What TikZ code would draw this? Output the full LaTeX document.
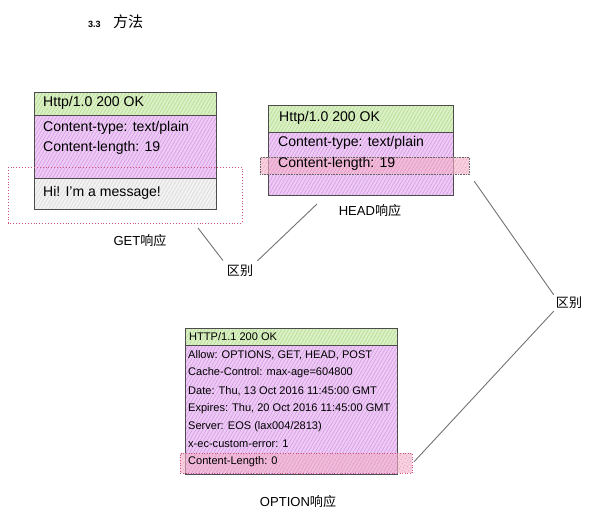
\documentclass[tikz,border=0pt]{standalone}
\usepackage{fontspec}
\setmainfont{Liberation Sans}
\newfontfamily\cjk{Noto Sans CJK SC}
\usetikzlibrary{patterns.meta,positioning}

\definecolor{hdrgreen}{HTML}{DCF0C8}
\definecolor{hdrhatch}{HTML}{B4DC8C}
\definecolor{bodypurple}{HTML}{EDCBF4}
\definecolor{bodyhatch}{HTML}{D69AE6}
\definecolor{msggrey}{HTML}{F3F3F3}
\definecolor{msghatch}{HTML}{D8D8D8}
\definecolor{bandpink}{HTML}{F3B3CB}
\definecolor{bandhatch}{HTML}{EC8FB0}
\definecolor{zonered}{HTML}{CC5580}

\newcommand{\pxscl}{0.035}
\newcommand{\px}[1]{#1*\pxscl}

\tikzset{
  boxframe/.style={draw=black!70, line width=0.8pt, anchor=north west, inner sep=0pt},
  hatch/.style={pattern={Lines[angle=60,distance=3pt,line width=0.6pt]}, pattern color=#1},
  hdrbox/.style={boxframe, preaction={fill=hdrgreen}, hatch=hdrhatch},
  bodybox/.style={boxframe, preaction={fill=bodypurple}, hatch=bodyhatch},
  msgbox/.style={boxframe, preaction={fill=msggrey}, hatch=msghatch},
  band/.style={anchor=north west, inner sep=0pt, preaction={fill=bandpink, fill opacity=0.6}, hatch=bandhatch},
  rowtxt/.style={anchor=west, inner sep=0pt, font=\fontsize{14}{16}\selectfont},
  smalltxt/.style={anchor=west, inner sep=0pt, font=\fontsize{11}{13}\selectfont},
  lbl/.style={inner sep=2pt, font=\fontsize{13}{15}\selectfont},
  link/.style={draw=black!55, line width=0.9pt}
}

\newcommand{\rt}{\node[rowtxt]}
\newcommand{\st}{\node[smalltxt]}

\begin{document}
\begin{tikzpicture}
        \useasboundingbox (0,0) rectangle (\px{598}, -\px{522});

        % title
        \node[anchor=base west, inner sep=0pt, font=\fontsize{9}{10}\selectfont\bfseries] (secnum) at (\px{88}, -\px{28}) {3.3};
        \node[anchor=base west, inner sep=0pt, font=\fontsize{15}{17}\selectfont\cjk] (sectitle) at ([xshift=\px{12}cm]secnum.base east) {方法};

        % GET response
        \node[hdrbox, minimum width=\px{182}cm, minimum height=\px{23}cm] (gethdr) at (\px{34}, -\px{92}) {};
        \node[bodybox, minimum width=\px{182}cm, minimum height=\px{63}cm] (getbody) at (\px{34}, -\px{115}) {};
        \node[msgbox, minimum width=\px{182}cm, minimum height=\px{31}cm] (getmsg) at (\px{34}, -\px{178}) {};
        \rt (get0) at (\px{43}, -\px{103}) {Http/1.0 200 OK};
        \rt (get1) at (\px{43}, -\px{128}) {Content-type: text/plain};
        \rt (get2) at (\px{43}, -\px{148}) {Content-length: 19};
        \rt (get3) at (\px{43}, -\px{193}) {Hi! I'm a message!};
        \draw[zonered, dotted, line width=0.9pt] (\px{8}, -\px{167}) rectangle (\px{242}, -\px{223});
        \node[lbl] (getlbl) at (\px{140}, -\px{241}) {GET{\cjk 响应}};

        % HEAD response
        \node[hdrbox, minimum width=\px{185}cm, minimum height=\px{27}cm] (headhdr) at (\px{268}, -\px{105}) {};
        \node[bodybox, minimum width=\px{185}cm, minimum height=\px{63}cm] (headbody) at (\px{268}, -\px{132}) {};
        \node[band, minimum width=\px{209}cm, minimum height=\px{17}cm, draw=black!60, densely dotted, line width=0.6pt] (headband) at (\px{260}, -\px{157}) {};
        \rt (head0) at (\px{279}, -\px{118}) {Http/1.0 200 OK};
        \rt (head1) at (\px{278}, -\px{143}) {Content-type: text/plain};
        \rt (head2) at (\px{278}, -\px{164}) {Content-length: 19};
        \node[lbl] (headlbl) at (\px{370}, -\px{211}) {HEAD{\cjk 响应}};

        % OPTION response
        \node[hdrbox, minimum width=\px{212}cm, minimum height=\px{17}cm] (opthdr) at (\px{185}, -\px{328}) {};
        \node[bodybox, minimum width=\px{212}cm, minimum height=\px{129}cm] (optbody) at (\px{185}, -\px{345}) {};
        \node[band, minimum width=\px{232}cm, minimum height=\px{20}cm, draw=zonered, dotted, line width=0.6pt] (optband) at (\px{180}, -\px{453}) {};
        \st (opt0) at (\px{189}, -\px{337}) {HTTP/1.1 200 OK};
        \st (opt1) at (\px{188}, -\px{355}) {Allow: OPTIONS, GET, HEAD, POST};
        \st (opt2) at (\px{188}, -\px{373}) {Cache-Control: max-age=604800};
        \st (opt3) at (\px{188}, -\px{391}) {Date: Thu, 13 Oct 2016 11:45:00 GMT};
        \st (opt4) at (\px{188}, -\px{409}) {Expires: Thu, 20 Oct 2016 11:45:00 GMT};
        \st (opt5) at (\px{188}, -\px{427}) {Server: EOS (lax004/2813)};
        \st (opt6) at (\px{188}, -\px{444}) {x-ec-custom-error: 1};
        \st (opt7) at (\px{188}, -\px{462}) {Content-Length: 0};
        \node[lbl] (optlbl) at (\px{298}, -\px{502}) {OPTION{\cjk 响应}};

        % differences
        \node[lbl, font=\fontsize{13}{15}\selectfont\cjk] (diff1) at (\px{240}, -\px{271}) {区别};
        \node[lbl, font=\fontsize{13}{15}\selectfont\cjk] (diff2) at (\px{569}, -\px{303}) {区别};

        \coordinate (getout) at (\px{198}, -\px{228});
        \coordinate (headout) at (\px{317}, -\px{204});

        \draw[link, shorten >=3pt] (getout) -- (diff1.north west);
        \draw[link, shorten >=3pt] (headout) -- (diff1.north east);
        \draw[link, shorten <=8pt] (headband.south east) -- (diff2.north west);
        \draw[link, shorten >=2pt] (diff2.south west) -- (optband.east);
    \end{tikzpicture}
\end{document}
